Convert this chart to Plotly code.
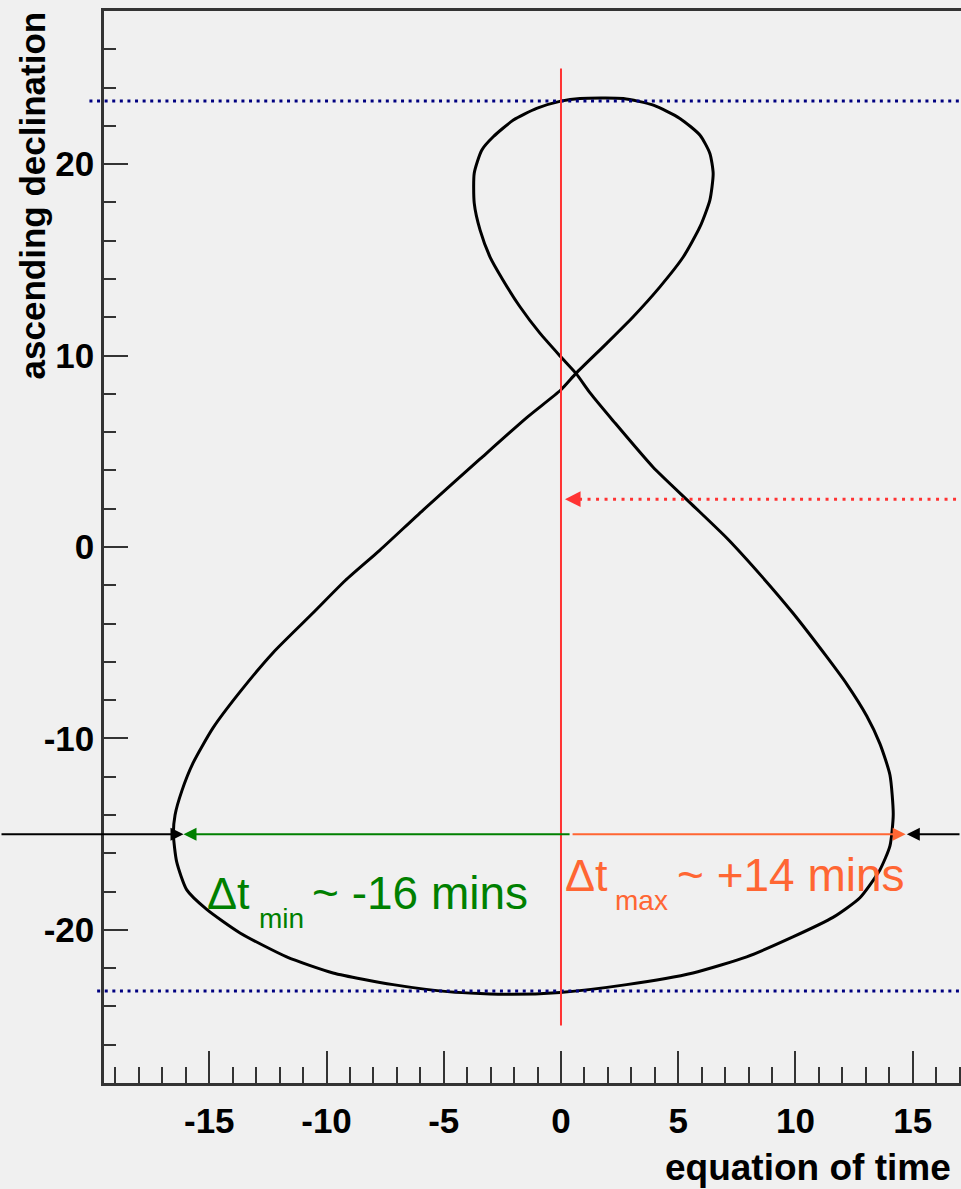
import plotly.graph_objects as go

# ---- data (equation of time [min], declination [deg]) ----
eq_time = [-0.04, 2.80, 5.63, 7.92, 9.89, 11.60, 12.75, 13.60, 14.03, 14.17, 14.03, 13.60,
           13.04, 12.18, 11.33, 9.89, 8.61, 7.07, 5.50, 3.92, 2.22, 1.24, 0.64, -0.01,
           -0.90, -1.75, -2.47, -3.03, -3.45, -3.70, -3.70, -3.38, -2.89, -2.03, -1.04,
           -0.01, 0.81, 2.66, 3.94, 5.07, 5.93, 6.35, 6.49, 6.35, 5.93, 5.22, 4.22, 3.08,
           1.95, 0.64, -0.01, -1.46, -3.45, -5.88, -7.72, -9.20, -10.58, -12.28, -13.69,
           -14.84, -15.69, -16.17, -16.46, -16.53, -16.39, -15.96, -15.11, -13.69, -11.70,
           -9.72, -7.16, -4.73, -2.17, -0.04]
declination = [-23.27, -22.86, -22.25, -21.41, -20.37, -19.35, -18.32, -16.87, -15.61, -13.98,
               -11.91, -10.27, -8.83, -7.15, -5.73, -3.45, -1.60, 0.47, 2.32, 4.18, 6.60, 8.05,
               9.07, 9.94, 11.17, 12.55, 13.94, 15.16, 16.55, 17.96, 19.53, 20.73, 21.43, 22.30,
               22.91, 23.29, 23.43, 23.43, 23.08, 22.39, 21.51, 20.56, 19.51, 18.12, 16.73,
               15.16, 13.59, 12.03, 10.64, 9.07, 8.20, 6.76, 4.60, 1.93, -0.16, -1.75, -3.45,
               -5.52, -7.57, -9.45, -11.28, -12.74, -14.00, -15.01, -16.45, -17.91, -18.93,
               -20.16, -21.41, -22.25, -22.86, -23.24, -23.37, -23.27]

X_RANGE = [-19.49, 17.06]
Y_RANGE = [-28.0, 28.0]
X_TICKS = [-15, -10, -5, 0, 5, 10, 15]
Y_TICKS = [-20, -10, 0, 10, 20]

TROPIC_N = 23.3
TROPIC_S = -23.2
DT_MIN = -16.1
DT_MAX = 14.7
ARROW_DECL = -15.0
ARROW_START = 0.43
NOON_DECL = 2.5
NOON_X = 0.17
ZERO_SPAN = [-25.0, 25.0]

# label pieces: (text, x, y, font size)
LABEL_MIN_PARTS = [("Δt", -15.18, -18.08, 45), ("min", -12.97, -19.43, 28),
                   ("~ -16 mins", -10.70, -18.08, 46)]
LABEL_MAX_PARTS = [("Δt", 0.085, -17.14, 45), ("max", 2.22, -18.45, 28),
                   ("~ +14 mins", 4.86, -17.14, 46)]

BG = "#f0f0f0"
RED = "#ff3333"
GREEN = "#008000"
ORANGE = "#ff6633"
NAVY = "#000080"
AXC = "#333333"


def xp(v):
    return (v - X_RANGE[0]) / (X_RANGE[1] - X_RANGE[0])


def yp(v):
    return (v - Y_RANGE[0]) / (Y_RANGE[1] - Y_RANGE[0])


fig = go.Figure()
fig.add_trace(go.Scatter(x=eq_time, y=declination, mode="lines",
                         line=dict(color="black", width=3, shape="spline", smoothing=0.6),
                         showlegend=False, hoverinfo="skip"))

shapes = [
    dict(type="line", xref="paper", yref="paper", x0=-0.017, x1=1.02,
         y0=yp(TROPIC_N), y1=yp(TROPIC_N), line=dict(color=NAVY, width=3, dash="3px,4.6px")),
    dict(type="line", xref="paper", yref="paper", x0=-0.008, x1=1.02,
         y0=yp(TROPIC_S), y1=yp(TROPIC_S), line=dict(color=NAVY, width=3, dash="3px,4.6px")),
    dict(type="line", xref="x", yref="y", x0=0, x1=0, y0=ZERO_SPAN[0], y1=ZERO_SPAN[1],
         line=dict(color=RED, width=2)),
    dict(type="line", xref="paper", yref="paper", x0=xp(NOON_X + 0.6), x1=1.02,
         y0=yp(NOON_DECL), y1=yp(NOON_DECL), line=dict(color=RED, width=3, dash="3px,5.5px")),
]

ann = []
# black arrows from outside pointing to the extremes
ann.append(dict(x=DT_MIN, y=ARROW_DECL, xref="x", yref="y", ax=-190, ay=0, text="",
                showarrow=True, arrowhead=2, arrowsize=1.3, arrowwidth=2, arrowcolor="black"))
ann.append(dict(x=DT_MAX + 0.05, y=ARROW_DECL, xref="x", yref="y", ax=90, ay=0, text="",
                showarrow=True, arrowhead=2, arrowsize=1.3, arrowwidth=2, arrowcolor="black"))
# orange and green arrows from zero
ann.append(dict(x=DT_MAX, y=ARROW_DECL, xref="x", yref="y", ax=ARROW_START, ay=ARROW_DECL,
                axref="x", ayref="y", text="", showarrow=True, arrowhead=2, arrowsize=1.3,
                arrowwidth=2, arrowcolor=ORANGE))
ann.append(dict(x=DT_MIN, y=ARROW_DECL, xref="x", yref="y", ax=ARROW_START, ay=ARROW_DECL,
                axref="x", ayref="y", text="", showarrow=True, arrowhead=2, arrowsize=1.3,
                arrowwidth=2, arrowcolor=GREEN))
# red dotted arrow head
ann.append(dict(x=NOON_X, y=NOON_DECL, xref="x", yref="y", ax=17, ay=0, text="",
                showarrow=True, arrowhead=2, arrowsize=1.3, arrowwidth=2.4, arrowcolor=RED))
# labels
for parts, col in ((LABEL_MIN_PARTS, GREEN), (LABEL_MAX_PARTS, ORANGE)):
    for txt, lx, ly, fs in parts:
        ann.append(dict(x=lx, y=ly, xref="x", yref="y", text=txt, showarrow=False,
                        xanchor="left", yanchor="middle", font=dict(size=fs, color=col)))
# axis titles
ann.append(dict(x=-0.084, y=0.828, xref="paper", yref="paper", text="ascending declination",
                showarrow=False, textangle=-90, xanchor="center", yanchor="middle",
                font=dict(size=35, color="black", weight="bold")))
ann.append(dict(x=0.991, y=-0.0786, xref="paper", yref="paper", text="equation of time",
                showarrow=False, xanchor="right", yanchor="middle",
                font=dict(size=37, color="black", weight="bold")))

fig.update_layout(
    width=961, height=1189,
    margin=dict(l=104, r=0, t=11, b=106, pad=0),
    paper_bgcolor=BG, plot_bgcolor=BG,
    font=dict(family="Liberation Sans, Arial, sans-serif", color="black"),
    shapes=shapes, annotations=ann, showlegend=False,
)
fig.update_xaxes(
    range=X_RANGE, showgrid=False, zeroline=False, showline=True, linecolor=AXC,
    linewidth=2.5, mirror=True, ticks="inside", ticklen=32, tickwidth=1.6, tickcolor=AXC,
    tickvals=X_TICKS, ticktext=[str(v) for v in X_TICKS], ticklabelstandoff=5,
    tickfont=dict(size=35, color="black", weight="bold"),
    minor=dict(ticks="inside", ticklen=16, dtick=1, tick0=0, tickwidth=1.6, tickcolor=AXC,
               showgrid=False),
)
fig.update_yaxes(
    range=Y_RANGE, showgrid=False, zeroline=False, showline=True, linecolor=AXC,
    linewidth=2.5, mirror=False, ticks="inside", ticklen=24, tickwidth=1.6, tickcolor=AXC,
    tickvals=Y_TICKS, ticktext=[str(v) for v in Y_TICKS], ticklabelstandoff=0,
    tickfont=dict(size=35, color="black", weight="bold"),
    minor=dict(ticks="inside", ticklen=12, dtick=2, tick0=0, tickwidth=1.6, tickcolor=AXC,
               showgrid=False),
)

fig.write_html("out.html")
